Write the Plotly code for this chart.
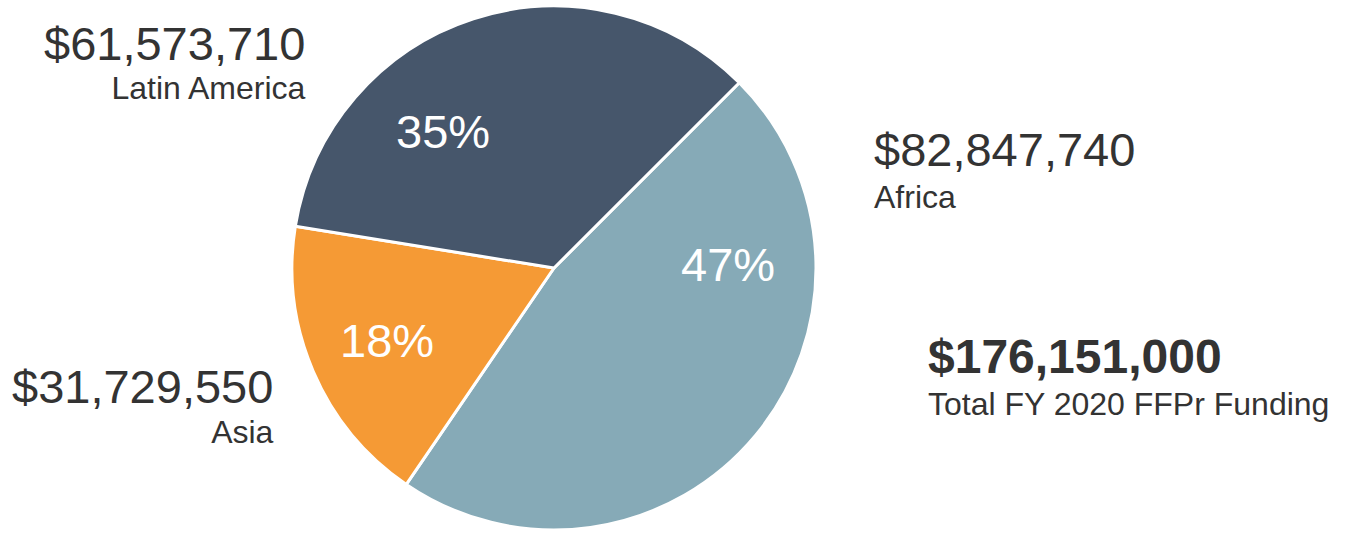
import plotly.graph_objects as go

# FY 2020 FFPr funding by region
regions = ["Africa", "Asia", "Latin America"]
funding = [82847740, 31729550, 61573710]
slice_colors = ["#86aab7", "#f59a35", "#46566b"]
total_funding = 176151000
total_label = "Total FY 2020 FFPr Funding"

W, H = 1346, 533
FONT = "Liberation Sans, Arial, Helvetica, sans-serif"
TEXT = "#333333"

fig = go.Figure(
    go.Pie(
        labels=regions,
        values=funding,
        sort=False,
        direction="clockwise",
        rotation=45,
        marker=dict(colors=slice_colors, line=dict(color="white", width=3)),
        textinfo="none",
        hoverinfo="label+value+percent",
        showlegend=False,
        domain=dict(x=[292 / W, 816 / W], y=[3 / H, 527 / H]),
    )
)


def money(v):
    return "${:,}".format(v)


def px(x):
    return x / W


def py(y):
    return 1 - y / H


def note(x, y, text, size, anchor="center", color=TEXT):
    return dict(
        x=px(x), y=py(y), xref="paper", yref="paper",
        xanchor=anchor, yanchor="middle", align=anchor, showarrow=False,
        text=text, font=dict(family=FONT, size=size, color=color),
    )


def two_line(top, bottom, top_size, bottom_size):
    return (f"<span style='font-size:{top_size}px'>{top}</span><br>"
            f"<span style='font-size:{bottom_size}px'>{bottom}</span>")


annotations = []

# share of total inside each slice: (region index, centre x, centre y)
pct_spots = [(0, 728, 264), (1, 387, 340), (2, 443, 131)]
grand = sum(funding)
for i, x, y in pct_spots:
    share = round(100 * funding[i] / grand)
    annotations.append(note(x, y, f"{share}%", 47, color="white"))

# amount over region name beside the pie:
# (region index, x, anchor, block centre y, base size setting the line gap)
label_spots = [
    (2, 308, "right", 62, 30),
    (0, 872, "left", 169, 32),
    (1, 276, "right", 405, 31),
]
for i, x, anchor, y, base in label_spots:
    annotations.append(note(x, y, two_line(money(funding[i]), regions[i], 47, 32), base, anchor))

annotations.append(note(
    926, 376,
    two_line("<b>" + money(total_funding) + "</b>", total_label, 48, 32),
    32, "left",
))

fig.update_layout(
    width=W, height=H,
    margin=dict(l=0, r=0, t=0, b=0),
    paper_bgcolor="white",
    plot_bgcolor="white",
    annotations=annotations,
)

fig.write_html("out.html")
